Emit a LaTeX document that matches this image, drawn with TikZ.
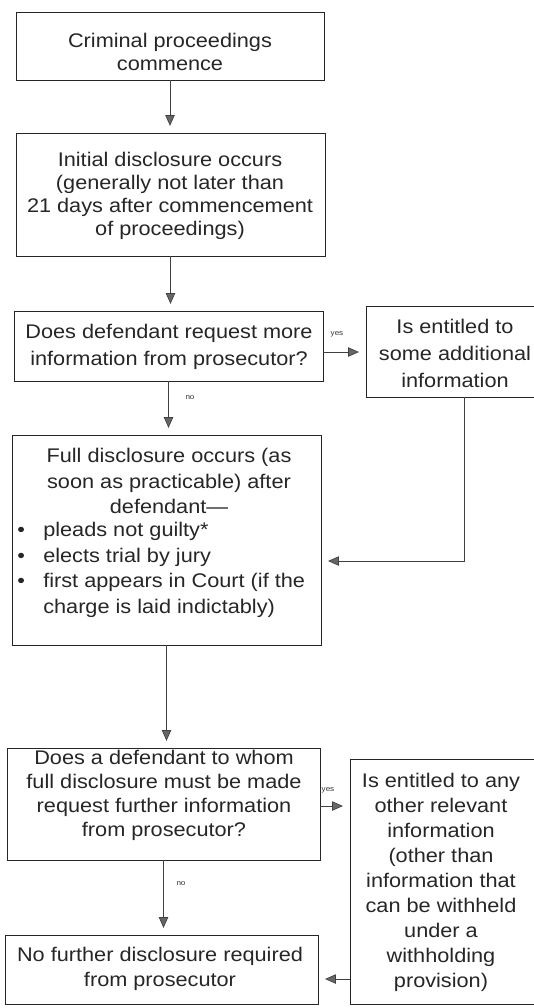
\documentclass[tikz,border=0pt]{standalone}
\usepackage{fontspec}
\setmainfont{Liberation Sans}[FakeStretch=1.1]
\usetikzlibrary{arrows.meta,fit}
\tikzset{
  box/.style={draw=black!85, line width=0.7pt, inner sep=0pt},
  txt/.style={align=center, text=black!85, inner sep=0pt},
  fs/.style={font=\fontsize{14.8}{#1}\selectfont},
  conn/.style={draw=black!75, line width=0.5pt,
    -{Triangle[width=7pt,length=8pt,fill=black!60]}, shorten >=5pt},
  lbl/.style={font=\fontsize{5.5}{6}\selectfont, text=black!80, inner sep=0pt},
}
\begin{document}
\begin{tikzpicture}[x=0.75pt,y=-0.75pt]
\useasboundingbox (0,0) rectangle (533,1008);
% boxes
\node[box, fit={(16,12)(324,80)}] (b1) {};
\node[box, fit={(16,133)(325,256)}] (b2) {};
\node[box, fit={(14,311)(323,381)}] (b3) {};
\node[box, fit={(366,306)(544,397)}] (yb) {};
\node[box, fit={(12,435)(321,645)}] (b4) {};
\node[box, fit={(7,748)(320,860)}] (b5) {};
\node[box, fit={(350,759)(534,1004)}] (b6) {};
\node[box, fit={(5,935)(318,1004)}] (b7) {};
% texts
\node[txt, fs=17.25pt] (t1) at (170,52) {Criminal proceedings\\commence};
\node[txt, fs=17.25pt] (t2) at (170,196) {Initial disclosure occurs\\(generally not later than\\21 days after commencement\\of proceedings)};
\node[txt, fs=20.25pt] (t3) at (169,347) {Does defendant request more\\information from prosecutor?};
\node[txt, fs=20.25pt] (ty) at (455,353) {Is entitled to\\some additional\\information};
\node[txt, fs=19.1pt] (t4a) at (169,481) {Full disclosure occurs (as\\soon as practicable) after\\defendant---};
\node[txt, fs=19.1pt, align=left, anchor=west] (t4b) at (17,570)
  {\makebox[19.5pt][l]{\textbullet}pleads not guilty*\\
   \makebox[19.5pt][l]{\textbullet}elects trial by jury\\
   \makebox[19.5pt][l]{\textbullet}first appears in Court (if the\\
   \hspace*{19.5pt}charge is laid indictably)};
\node[txt, fs=18pt] (t5) at (164,795) {Does a defendant to whom\\full disclosure must be made\\request further information\\from prosecutor?};
\node[txt, fs=18.75pt] (t6) at (441,882) {Is entitled to any\\other relevant\\information\\(other than\\information that\\can be withheld\\under a\\withholding\\provision)};
\node[txt, fs=18.75pt] (t7) at (160,969) {No further disclosure required\\from prosecutor};
% labels
\node[lbl] (l1) at (337,334) {yes};
\node[lbl] (l2) at (190,398) {no};
\node[lbl] (l3) at (328,790) {yes};
\node[lbl] (l4) at (181,884) {no};
% helper coordinates
\coordinate (y1) at (0,352);
\coordinate (c1) at (464,561);
\coordinate (y2) at (0,806);
\coordinate (y3) at (0,979);
% connectors
\draw[conn] (b1.south) -- (b1.south |- b2.north);
\draw[conn] (b2.south) -- (b2.south |- b3.north);
\draw[conn] (b3.south) -- (b3.south |- b4.north);
\draw[conn] (b3.east |- y1) -- (yb.west |- y1);
\draw[conn] (yb.south -| c1) -- (c1) -- (b4.east |- c1);
\draw[conn] (b4.south) -- (b4.south |- b5.north);
\draw[conn] (b5.east |- y2) -- (b6.west |- y2);
\draw[conn] (b5.south) -- (b5.south |- b7.north);
\draw[conn] (b6.west |- y3) -- (b7.east |- y3);
\end{tikzpicture}
\end{document}
